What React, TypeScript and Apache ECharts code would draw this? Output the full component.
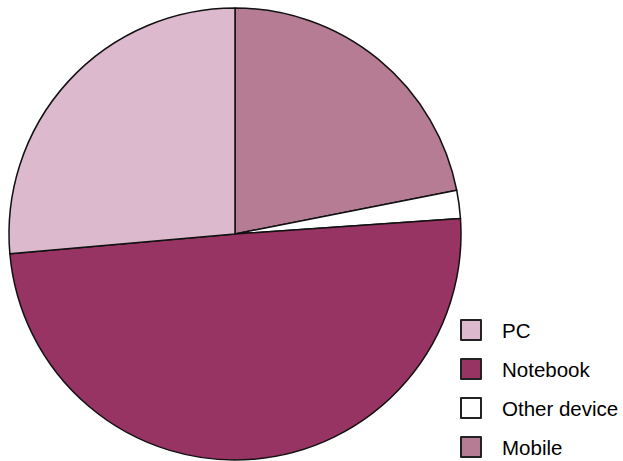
import React, { useEffect, useRef } from "react";
import * as echarts from "echarts";

const sliceNames = ["Mobile", "Other device", "Notebook", "PC"];
const sliceValues = [21.9, 2.0, 49.7, 26.4];
const sliceColors = ["#b57c94", "#ffffff", "#983463", "#dcb9cc"];
const legendOrder = ["PC", "Notebook", "Other device", "Mobile"];

export default function App() {
  const ref = useRef<HTMLDivElement>(null);
  useEffect(() => {
    if (!ref.current) return;
    const chart = echarts.init(ref.current, undefined, { renderer: "svg" });
    chart.setOption({
      animation: false,
      backgroundColor: "#ffffff",
      legend: {
        orient: "vertical",
        left: 460,
        top: 319,
        width: 163,
        height: 200,
        padding: 0,
        itemWidth: 20,
        itemHeight: 20,
        itemGap: 17,
        data: legendOrder,
        icon: "rect",
        itemStyle: { borderColor: "#222", borderWidth: 2 },
        textStyle: {
          fontFamily: "Liberation Sans, Arial, sans-serif",
          fontSize: 20.5,
          lineHeight: 20,
          color: "#000",
          padding: [2, 0, 0, 16],
        },
        selectedMode: false,
      },
      series: [
        {
          type: "pie",
          center: [235, 234],
          radius: 226,
          startAngle: 90,
          clockwise: true,
          label: { show: false },
          labelLine: { show: false },
          emphasis: { disabled: true },
          itemStyle: { borderColor: "#111", borderWidth: 1.5 },
          data: sliceNames.map((n, i) => ({
            name: n,
            value: sliceValues[i],
            itemStyle: { color: sliceColors[i] },
          })),
        },
      ],
    });
    return () => chart.dispose();
  }, []);
  return (
    <div
      ref={ref}
      style={{ position: "absolute", left: 0, top: 0, width: 623, height: 461 }}
    />
  );
}
